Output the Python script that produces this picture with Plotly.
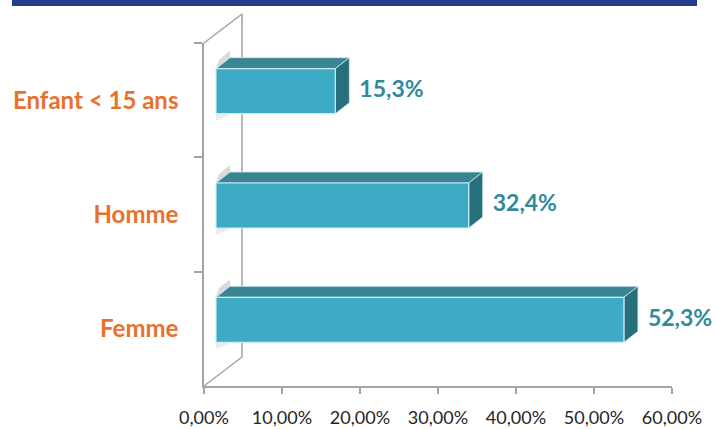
import plotly.graph_objects as go

# Répartition par groupe (bas -> haut)
categories = ["Femme", "Homme", "Enfant < 15 ans"]
values = [52.3, 32.4, 15.3]  # en %
x_ticks = [0, 10, 20, 30, 40, 50, 60]
x_tick_labels = ["0,00%", "10,00%", "20,00%", "30,00%", "40,00%", "50,00%", "60,00%"]

# --- géométrie (pixels) ---
W, H = 717, 429
X0_PX, X60_PX = 204, 672          # axe des valeurs (plan avant)
Y_TOP_PX, Y_BOT_PX = 43, 386      # axe des catégories (plan avant)
PX_X = (X60_PX - X0_PX) / 60.0
PX_Y = (Y_BOT_PX - Y_TOP_PX) / len(categories)

WALL_DX, WALL_DY = 38, 29         # profondeur de la paroi
FRONT_DX, FRONT_DY = 12, 9        # décalage de la face avant des barres
BAR_DX, BAR_DY = 14, 11           # profondeur des barres
BAR_HALF = 22.5                   # demi-épaisseur des barres


def dx(px):
    return px / PX_X


def dy(px):
    return px / PX_Y


FRONT_COL = "#3DABC6"
TOP_COL = "#3A8593"
SIDE_COL = "#276F7C"
EDGE_COL = "#CDEBF2"
AXIS_COL = "#A3A3A3"
LABEL_COL = "#2E8A9C"
CAT_COL = "#E8712B"

fig = go.Figure()

# enregistre les catégories sur l'axe avant
fig.add_trace(go.Scatter(
    x=values, y=categories, mode="markers", marker=dict(opacity=0),
    hoverinfo="skip", showlegend=False, xaxis="x", yaxis="y"))

# paroi du fond
n = len(categories)
wx = dx(WALL_DX)
wy = dy(WALL_DY)
fig.add_trace(go.Scatter(
    x=[0, wx, wx, 0], y=[n - 0.5, n - 0.5 + wy, -0.5 + wy, -0.5],
    mode="lines", line=dict(color=AXIS_COL, width=1.5),
    hoverinfo="skip", showlegend=False, xaxis="x2", yaxis="y2"))

for i, v in enumerate(values):
    x0 = dx(FRONT_DX)
    x1 = v + dx(FRONT_DX)
    yc = i + dy(FRONT_DY)
    yb = yc - dy(BAR_HALF)
    yt = yc + dy(BAR_HALF)
    ddx, ddy = dx(BAR_DX), dy(BAR_DY)

    # ombre sur la paroi
    fig.add_trace(go.Scatter(
        x=[x0, x0 + ddx, x0 + ddx, x0 + dx(3)],
        y=[yt, yt + ddy, yt + ddy + dy(7), yt + dy(9)],
        fill="toself", fillcolor="rgba(150,150,150,0.35)", mode="none",
        hoverinfo="skip", showlegend=False, xaxis="x2", yaxis="y2"))
    fig.add_trace(go.Scatter(
        x=[x0, x0 + dx(12), x0 + dx(12), x0],
        y=[yb, yb, yb - dy(2), yb - dy(7)],
        fill="toself", fillcolor="rgba(180,180,180,0.25)", mode="none",
        hoverinfo="skip", showlegend=False, xaxis="x2", yaxis="y2"))

    # face supérieure
    fig.add_trace(go.Scatter(
        x=[x0, x1, x1 + ddx, x0 + ddx, x0],
        y=[yt, yt, yt + ddy, yt + ddy, yt],
        fill="toself", fillcolor=TOP_COL, mode="lines",
        line=dict(color=EDGE_COL, width=0.8),
        hoverinfo="skip", showlegend=False, xaxis="x2", yaxis="y2"))
    # face latérale
    fig.add_trace(go.Scatter(
        x=[x1, x1 + ddx, x1 + ddx, x1, x1],
        y=[yt, yt + ddy, yb + ddy, yb, yt],
        fill="toself", fillcolor=SIDE_COL, mode="lines",
        line=dict(color=EDGE_COL, width=0.8),
        hoverinfo="skip", showlegend=False, xaxis="x2", yaxis="y2"))
    # face avant
    fig.add_trace(go.Scatter(
        x=[x0, x1, x1, x0, x0],
        y=[yb, yb, yt, yt, yb],
        fill="toself", fillcolor=FRONT_COL, mode="lines",
        line=dict(color=EDGE_COL, width=1.2),
        hoverinfo="skip", showlegend=False, xaxis="x2", yaxis="y2"))

# étiquettes de valeurs
fig.add_trace(go.Scatter(
    x=[v + dx(FRONT_DX + BAR_DX + 10) for v in values],
    y=[i + dy(FRONT_DY) for i in range(n)],
    mode="text",
    text=[f"{v:.1f}".replace(".", ",") + "%" for v in values],
    textposition="middle right",
    textfont=dict(family="Lato", size=23, color=LABEL_COL, weight="bold"),
    hoverinfo="skip", showlegend=False, xaxis="x2", yaxis="y2"))

fig.update_layout(
    width=W, height=H,
    margin=dict(l=0, r=0, t=0, b=0, pad=0, autoexpand=False),
    paper_bgcolor="white", plot_bgcolor="rgba(0,0,0,0)",
    xaxis=dict(
        domain=[X0_PX / W, X60_PX / W], range=[0, 60],
        showline=True, linecolor=AXIS_COL, linewidth=1.5,
        ticks="outside", ticklen=6, tickcolor=AXIS_COL, tickwidth=1.5,
        tickvals=x_ticks, ticktext=x_tick_labels,
        tickfont=dict(family="Lato", size=18, color="#262626"),
        ticklabelstandoff=9, automargin=False,
        showgrid=False, zeroline=False, anchor="y", fixedrange=True),
    yaxis=dict(
        domain=[(H - Y_BOT_PX) / H, (H - Y_TOP_PX) / H],
        type="category", categoryorder="array", categoryarray=categories,
        range=[-0.5, n - 0.5],
        showline=True, linecolor=AXIS_COL, linewidth=1.5,
        ticks="outside", ticklen=8, tickcolor=AXIS_COL, tickwidth=1.5,
        tickson="boundaries",
        tickfont=dict(family="Lato", size=24, color=CAT_COL, weight="bold"),
        ticklabelstandoff=19, automargin=False,
        showgrid=False, zeroline=False, anchor="x", fixedrange=True),
    xaxis2=dict(
        domain=[0, 1], anchor="y2", visible=False, fixedrange=True,
        automargin=False,
        range=[-X0_PX / PX_X, (W - X0_PX) / PX_X]),
    yaxis2=dict(
        domain=[0, 1], anchor="x2", visible=False, fixedrange=True,
        automargin=False,
        range=[-0.5 - (H - Y_BOT_PX) / PX_Y, -0.5 + Y_BOT_PX / PX_Y]),
    shapes=[dict(type="rect", xref="paper", yref="paper",
                 x0=12 / W, x1=697 / W, y0=1 - 6 / H, y1=1,
                 fillcolor="#233D8C", line=dict(width=0), layer="above")],
)

fig.write_html("out.html")
